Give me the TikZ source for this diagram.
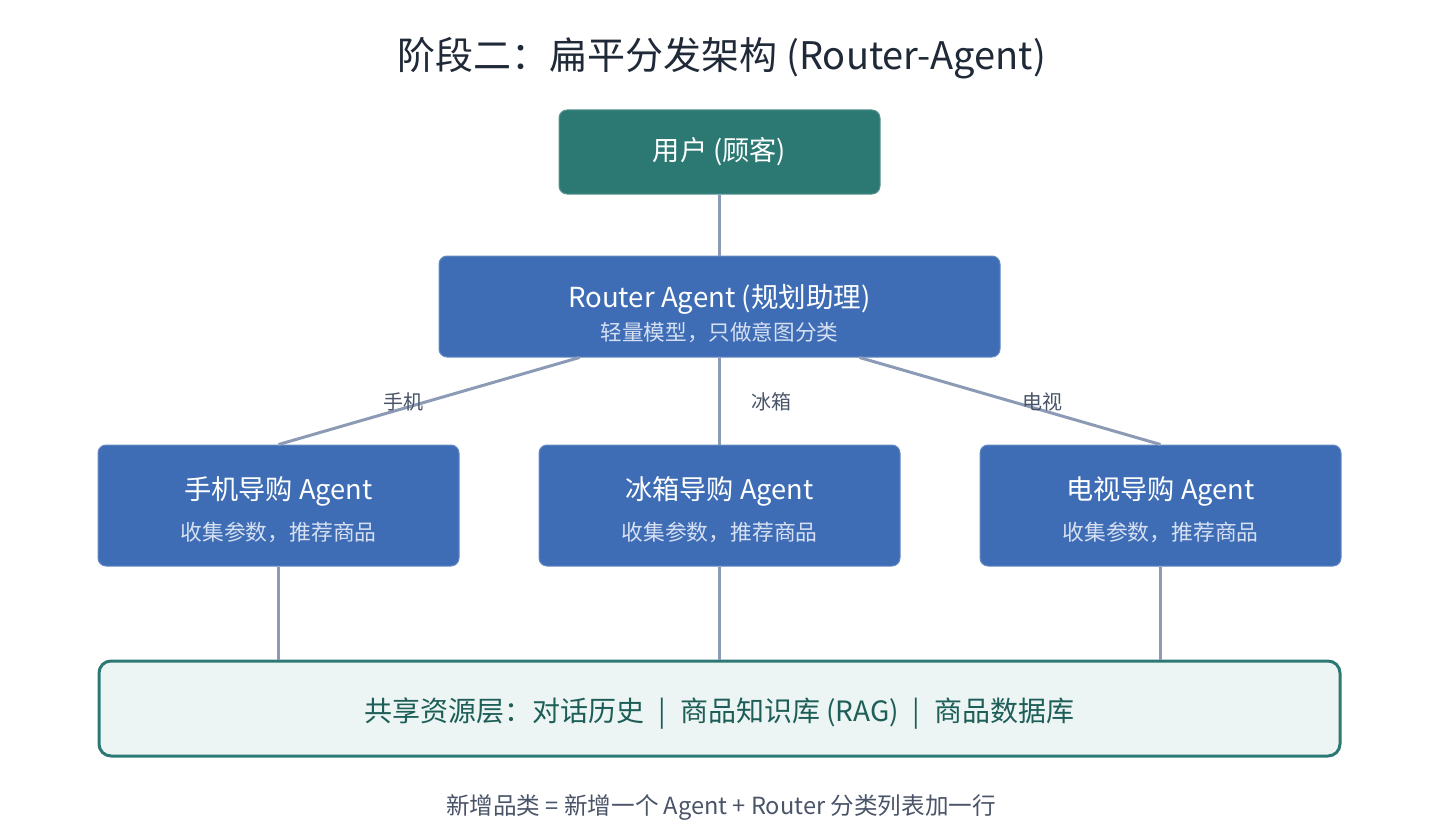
\documentclass[tikz,border=0pt]{standalone}
\usepackage{fontspec}
\setmainfont{Noto Sans CJK SC}
\usetikzlibrary{positioning}
\definecolor{tealbox}{RGB}{44,121,116}
\definecolor{bluebox}{RGB}{62,109,181}
\definecolor{linkcol}{RGB}{140,155,181}
\definecolor{subtext}{RGB}{214,224,242}
\definecolor{sharedfill}{RGB}{236,245,243}
\definecolor{sharedtext}{RGB}{30,94,88}
\definecolor{labeltext}{RGB}{74,84,104}
\definecolor{titletext}{RGB}{31,41,55}
\tikzset{main node/.style={rectangle,rounded corners=4pt,fill=bluebox,draw=bluebox!80!white,line width=0.5pt,text=white,align=center,inner sep=0pt},  }

\begin{document}
\begin{tikzpicture}[x=0.5pt,y=-0.5pt,node distance=40pt,
        link/.style={draw=linkcol,line width=1.5pt},
        user node/.style={main node,fill=tealbox,draw=tealbox!80!white,minimum width=160.5pt,minimum height=42pt},
        router node/.style={main node,minimum width=280.5pt,minimum height=50.5pt},
        agent node/.style={main node,minimum width=180.5pt,minimum height=60.5pt},
        edge label/.style={text=labeltext,font=\fontsize{10}{12}\selectfont}]
    \useasboundingbox (0,0) rectangle (1440,840);
    \node[text=titletext,font=\fontsize{19}{22}\selectfont] (title) at (722,58) {阶段二：扁平分发架构 (Router-Agent)};

    \node[user node,font=\fontsize{13.6}{15}\selectfont] (user) at (719.5,152) {用户 (顾客)};
    \node[router node] (router) [below=30.5pt of user]
        {{\fontsize{13.8}{15}\selectfont\rule{0pt}{19pt}Router Agent (规划助理)}\\[3pt]
         {\fontsize{10.8}{13}\selectfont\color{subtext}轻量模型，只做意图分类}};

    \node[agent node] (fridge) [below=43.5pt of router]
        {{\fontsize{13.6}{15}\selectfont\rule{0pt}{16pt}冰箱导购 Agent}\\[7pt]
         {\fontsize{10.9}{13}\selectfont\color{subtext}收集参数，推荐商品}};
    \node[agent node] (phone) [left=39.5pt of fridge]
        {{\fontsize{13.6}{15}\selectfont\rule{0pt}{16pt}手机导购 Agent}\\[7pt]
         {\fontsize{10.9}{13}\selectfont\color{subtext}收集参数，推荐商品}};
    \node[agent node] (tv) [right=39.5pt of fridge]
        {{\fontsize{13.6}{15}\selectfont\rule{0pt}{16pt}电视导购 Agent}\\[7pt]
         {\fontsize{10.9}{13}\selectfont\color{subtext}收集参数，推荐商品}};

    \node[rectangle,rounded corners=6pt,fill=sharedfill,draw=tealbox,line width=1.5pt,
          minimum width=620.5pt,minimum height=47.5pt,text=sharedtext,
          font=\fontsize{14}{15}\selectfont] (shared) [below=46.5pt of fridge]
        {\rule{0pt}{16.5pt}共享资源层：对话历史\enspace|\enspace 商品知识库 (RAG)\enspace|\enspace 商品数据库};

    \path[link]
    (user) edge (router)
    ([xshift=-70pt]router.south) edge (phone.north)
    (router) edge (fridge)
    ([xshift=70pt]router.south) edge (tv.north)
    (phone) edge (shared.north -| phone)
    (fridge) edge (shared)
    (tv) edge (shared.north -| tv);

    \node[edge label] (lphone) at (403,402) {手机};
    \node[edge label] (lfridge) at (771,402) {冰箱};
    \node[edge label] (ltv) at (1042,402) {电视};

    \node[text=labeltext,font=\fontsize{11.8}{13}\selectfont] (note) at (721,807) {新增品类 = 新增一个 Agent + Router 分类列表加一行};
\end{tikzpicture}
\end{document}
